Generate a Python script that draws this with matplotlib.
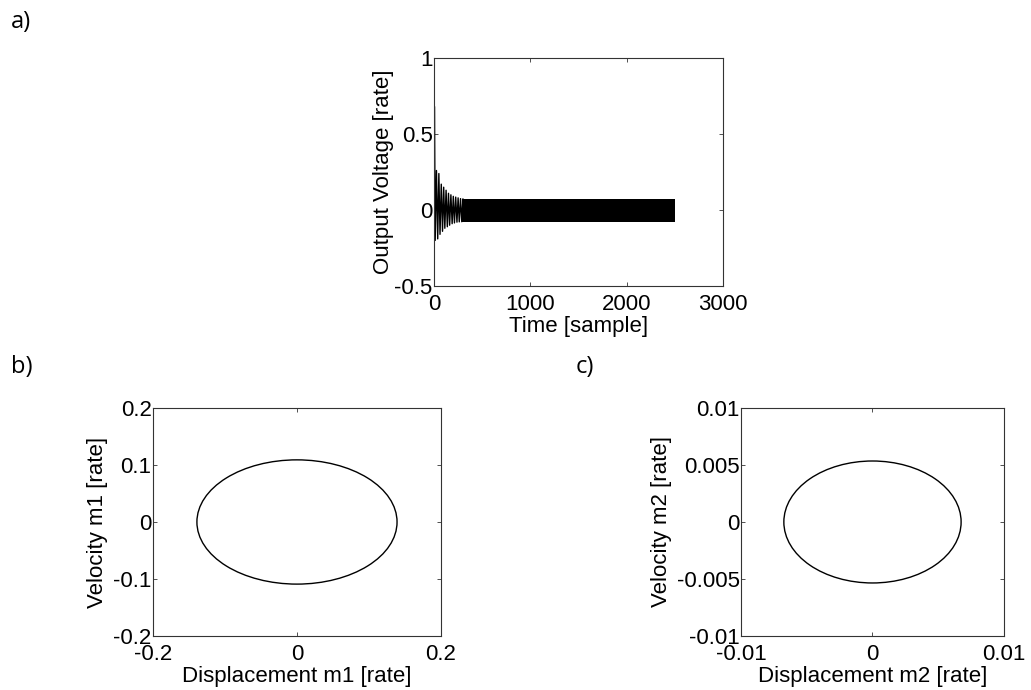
import matplotlib
matplotlib.use("Agg")
import matplotlib.pyplot as plt
from matplotlib.patches import Ellipse

plt.rcParams['font.family'] = ['Liberation Sans', 'DejaVu Sans']

# ---- a) output voltage ----
spike_t = [3, 5, 6]
spike_v = [0.68, 0.68, 0.50]
# transient peaks (upper / lower) of the decaying oscillation
up_t = [25, 50, 75, 100, 125, 150, 175, 200, 225, 250, 275, 300]
up_v = [0.26, 0.24, 0.17, 0.15, 0.13, 0.11, 0.10, 0.09, 0.085, 0.08, 0.075, 0.072]
lo_t = [12, 38, 62, 88, 112, 138, 162, 188, 212, 238, 262, 288]
lo_v = [-0.20, -0.19, -0.16, -0.14, -0.12, -0.11, -0.10, -0.09, -0.085, -0.08, -0.078, -0.077]
# steady-state band
band_t = [290, 2500]
band_top = [0.07, 0.07]
band_bot = [-0.077, -0.077]

# ---- b) / c) phase portraits (centre, amplitude in x, amplitude in y) ----
m1_centre = (0.0, 0.0)
m1_amp = (0.139, 0.109)
m2_centre = (0.0, 0.0)
m2_amp = (0.00674, 0.00535)

a_xticks = [0, 1000, 2000, 3000]
a_yticks = [-0.5, 0, 0.5, 1]
a_yticklabels = ['-0.5', '0', '0.5', '1']
b_ticks = [-0.2, -0.1, 0, 0.1, 0.2]
b_ticklabels = ['-0.2', '-0.1', '0', '0.1', '0.2']
b_xticks = [-0.2, 0, 0.2]
b_xticklabels = ['-0.2', '0', '0.2']
c_ticks = [-0.01, -0.005, 0, 0.005, 0.01]
c_ticklabels = ['-0.01', '-0.005', '0', '0.005', '0.01']
c_xticks = [-0.01, 0, 0.01]
c_xticklabels = ['-0.01', '0', '0.01']

FS = 16


def style(ax, xpad):
    ax.tick_params(direction='in', top=True, right=True, length=3,
                   width=0.6, labelsize=FS, pad=1, color='#333333')
    ax.tick_params(axis='x', pad=xpad)
    for s in ax.spines.values():
        s.set_linewidth(0.8)
        s.set_color('#333333')


fig = plt.figure(figsize=(10.31, 6.90), dpi=100)

# --- a ---
ax_a = fig.add_axes([0.421, 0.5855, 0.280, 0.3304])
zig_t = list(spike_t)
zig_v = list(spike_v)
for i in range(len(up_t)):
    zig_t += [lo_t[i], up_t[i]]
    zig_v += [lo_v[i], up_v[i]]
ax_a.plot(zig_t, zig_v, color='black', lw=1.0)
ax_a.fill_between(band_t, band_bot, band_top, color='black', lw=0)
ax_a.set_xlim(0, 3000)
ax_a.set_ylim(-0.5, 1)
ax_a.set_xticks(a_xticks)
ax_a.set_xticklabels([str(t) for t in a_xticks])
ax_a.set_yticks(a_yticks)
ax_a.set_yticklabels(a_yticklabels)
ax_a.set_xlabel('Time [sample]', fontsize=FS, labelpad=0.5)
ax_a.set_ylabel('Output Voltage [rate]', fontsize=FS, labelpad=0)
style(ax_a, 6.0)

# --- b ---
ax_b = fig.add_axes([0.1484, 0.0783, 0.2793, 0.3304])
ax_b.add_patch(Ellipse(m1_centre, 2 * m1_amp[0], 2 * m1_amp[1],
                       fill=False, edgecolor='black', lw=1.0))
ax_b.set_xlim(-0.2, 0.2)
ax_b.set_ylim(-0.2, 0.2)
ax_b.set_xticks(b_xticks)
ax_b.set_xticklabels(b_xticklabels)
ax_b.set_yticks(b_ticks)
ax_b.set_yticklabels(b_ticklabels)
ax_b.set_xlabel('Displacement m1 [rate]', fontsize=FS, labelpad=1)
ax_b.set_ylabel('Velocity m1 [rate]', fontsize=FS, labelpad=3.6)
style(ax_b, 5.5)

# --- c ---
ax_c = fig.add_axes([0.7187, 0.0783, 0.2551, 0.3304])
ax_c.add_patch(Ellipse(m2_centre, 2 * m2_amp[0], 2 * m2_amp[1],
                       fill=False, edgecolor='black', lw=1.0))
ax_c.set_xlim(-0.01, 0.01)
ax_c.set_ylim(-0.01, 0.01)
ax_c.set_xticks(c_xticks)
ax_c.set_xticklabels(c_xticklabels)
ax_c.set_yticks(c_ticks)
ax_c.set_yticklabels(c_ticklabels)
ax_c.set_xlabel('Displacement m2 [rate]', fontsize=FS, labelpad=1)
ax_c.set_ylabel('Velocity m2 [rate]', fontsize=FS, labelpad=3)
style(ax_c, 5.5)

# panel letters
for x, y, s in [(0.011, 0.968, 'a)'), (0.011, 0.468, 'b)'), (0.558, 0.468, 'c)')]:
    fig.text(x, y, s, fontsize=17, family=['Open Sans', 'DejaVu Sans'],
             va='center', ha='left')

fig.savefig('out.png', dpi=100)
